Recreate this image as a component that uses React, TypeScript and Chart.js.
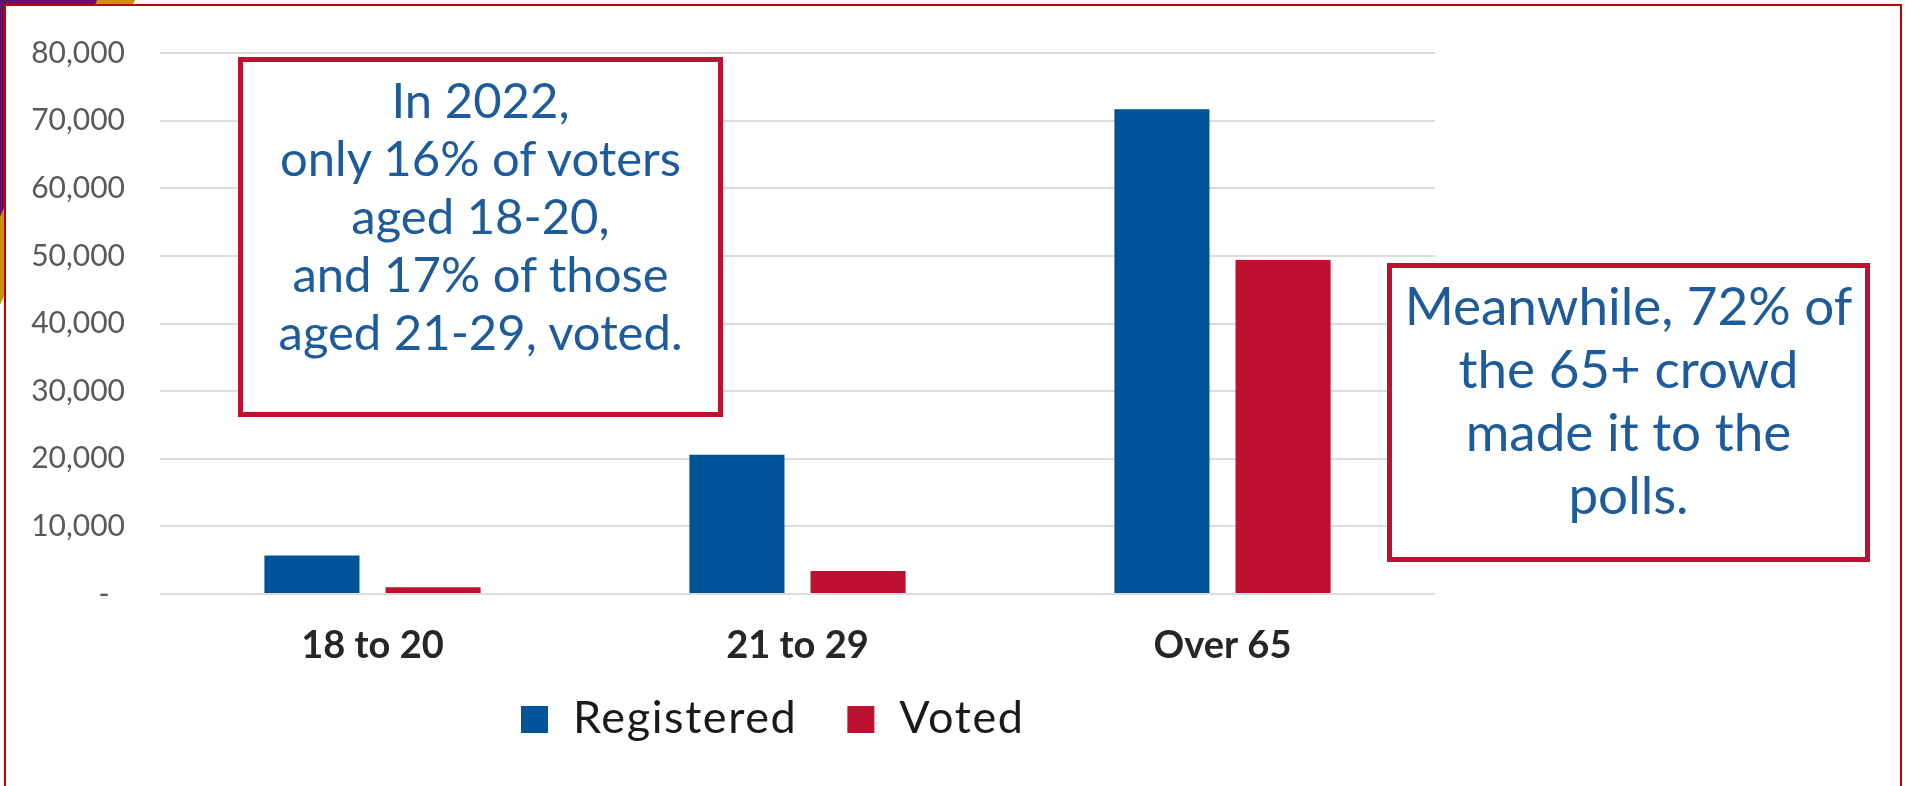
import React, { useEffect, useRef } from 'react';
import { Chart, registerables } from 'chart.js';

Chart.register(...registerables);

// ---- data ----
const categories = ['18 to 20', '21 to 29', 'Over 65'];
const registered = [5700, 20600, 71700];
const voted = [1000, 3400, 49400];
const seriesNames = ['Registered', 'Voted'];
const seriesColors = ['#00549a', '#be1131'];
const yMax = 80000;
const yStep = 10000;
const noteLeft = ['In 2022,', 'only 16% of voters', 'aged 18-20,', 'and 17% of those', 'aged 21-29, voted.'];
const noteRight = ['Meanwhile, 72% of', 'the 65+ crowd', 'made it to the', 'polls.'];

const W = 1905;
const H = 786;

const legendPlugin = {
  id: 'customLegend',
  afterDraw(chart: any) {
    const ctx = chart.ctx;
    ctx.save();
    ctx.font = '45px Lato';
    try { (ctx as any).letterSpacing = '1.6px'; } catch (e) { /* ignore */ }
    ctx.textBaseline = 'alphabetic';
    ctx.textAlign = 'left';
    let x = 521;
    chart.data.datasets.forEach((ds: any) => {
      ctx.fillStyle = ds.backgroundColor;
      ctx.fillRect(x, 706, 27, 27);
      x += 27 + 25;
      ctx.fillStyle = '#1a1a1a';
      ctx.fillText(ds.label, x, 733);
      x += ctx.measureText(ds.label).width + 50;
    });
    ctx.restore();
  },
};

function ChartCanvas() {
  const ref = useRef<HTMLCanvasElement | null>(null);
  useEffect(() => {
    if (!ref.current) return;
    const chart = new Chart(ref.current, {
      type: 'bar',
      data: {
        labels: categories,
        datasets: [
          { label: seriesNames[0], data: registered, backgroundColor: seriesColors[0], borderWidth: 0 },
          { label: seriesNames[1], data: voted, backgroundColor: seriesColors[1], borderWidth: 0 },
        ],
      },
      options: {
        responsive: false,
        animation: false,
        events: [],
        datasets: { bar: { categoryPercentage: 0.57, barPercentage: 0.785 } },
        layout: { padding: { top: 50, right: W - 1435, bottom: 0, left: 0 } },
        plugins: { legend: { display: false }, tooltip: { enabled: false } },
        scales: {
          x: {
            grid: { display: false },
            border: { display: false },
            afterFit: (s: any) => { s.height = H - 594; },
            ticks: {
              padding: 21,
              color: '#262626',
              font: { family: 'Lato', size: 38, weight: 'bold' },
            },
          },
          y: {
            min: 0,
            max: yMax,
            afterFit: (s: any) => { s.width = 160; },
            border: { display: false },
            grid: { color: '#dcdcdc', lineWidth: 2, drawTicks: false },
            ticks: {
              stepSize: yStep,
              padding: 35,
              color: '#595959',
              font: { family: 'Lato', size: 30 },
              callback: (v: any) => (Number(v) === 0 ? '-  ' : Number(v).toLocaleString('en-US')),
            },
          },
        },
      },
      plugins: [legendPlugin],
    } as any);
    return () => chart.destroy();
  }, []);
  return <canvas ref={ref} width={W} height={H} style={{ position: 'absolute', left: 0, top: 0, width: W, height: H }} />;
}

const noteBase: React.CSSProperties = {
  position: 'absolute',
  boxSizing: 'border-box',
  border: '5px solid #be1131',
  background: '#ffffff',
  textAlign: 'center',
  color: '#1e5b9b',
  fontFamily: 'Lato',
  whiteSpace: 'nowrap',
};

export default function App() {
  return (
    <div style={{ position: 'absolute', left: 0, top: 0, width: W, height: H, overflow: 'hidden', background: '#ffffff' }}>
      <div style={{ position: 'absolute', left: 0, top: 0, width: 140, height: 310, background: '#c9940c', clipPath: 'polygon(0 0, 135px 0, 0 305px)' }} />
      <div style={{ position: 'absolute', left: 0, top: 0, width: 100, height: 220, background: '#66106a', clipPath: 'polygon(0 0, 97px 0, 0 217px)' }} />
      <div style={{ position: 'absolute', left: 4, top: 4, width: 1898, height: 900, boxSizing: 'border-box', border: '2px solid #c00000', background: '#ffffff' }} />
      <ChartCanvas />
      <div style={{ ...noteBase, left: 238, top: 57, width: 485, height: 360, paddingTop: 8, fontSize: 49, lineHeight: '58px' }}>
        {noteLeft.map((l, i) => <div key={i}>{l}</div>)}
      </div>
      <div style={{ ...noteBase, left: 1387, top: 263, width: 483, height: 299, paddingTop: 5, fontSize: 53, lineHeight: '63px' }}>
        {noteRight.map((l, i) => <div key={i}>{l}</div>)}
      </div>
    </div>
  );
}
